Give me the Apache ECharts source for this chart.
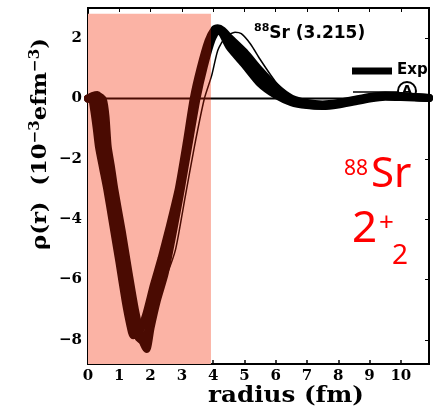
<!DOCTYPE html>
<html>
<head>
<meta charset="utf-8">
<script src="https://cdn.jsdelivr.net/npm/echarts@6/dist/echarts.min.js"></script>
<style>
  html, body { margin: 0; padding: 0; background: #fff; }
  #chart { width: 433px; height: 410px; }
</style>
</head>
<body>
<div id="chart"></div>
<script>
// axis extents and ticks
const xTicks = [0, 1, 2, 3, 4, 5, 6, 7, 8, 9, 10]
const yTicks = [-8, -6, -4, -2, 0, 2]
const xRange = [0, 10.9]
const yRange = [-8.8, 3]

// shaded region (radius 0 .. 3.93)
const shadeX = [0, 3.93]
const shadeY = [-8.8, 2.81]

// zero line
const zeroX = [0, 10.9]
const zeroY = [0, 0]

// Exp band, drawn as three thick curves
const exp1X = [0, 0.12, 0.2, 0.28, 0.35, 0.48, 0.62, 0.78, 1.0, 1.2, 1.35, 1.45, 1.65, 1.85, 2.1, 2.35, 2.6, 2.9, 3.15, 3.38, 3.6, 3.85, 4.05, 4.15, 4.3, 4.53, 5.0, 5.5, 6.0, 6.5, 7.0, 7.5, 8.0, 8.5, 9.0, 9.5, 10.0, 10.9]
const exp1Y = [0, 0.0, -0.4, -1.0, -1.6, -2.3, -3.04, -4.03, -5.4, -6.7, -7.5, -7.85, -7.7, -7.2, -6.2, -5.3, -4.3, -3.0, -1.5, 0, 1.0, 1.9, 2.3, 2.33, 2.25, 2.0, 1.53, 0.92, 0.38, 0.0, -0.15, -0.2, -0.15, -0.05, 0.05, 0.1, 0.08, 0.02]

const exp2X = [0, 0.15, 0.3, 0.4, 0.47, 0.55, 0.68, 0.8, 1.05, 1.25, 1.42, 1.6, 1.78, 1.95, 2.15, 2.4, 2.65, 2.92, 3.18, 3.43, 3.65, 3.9, 4.1, 4.3, 4.53, 5.0, 5.5, 6.0, 6.5, 7.0, 7.5, 8.0, 8.5, 9.0, 9.5, 10.0, 10.9]
const exp2Y = [0, 0.08, 0.12, -0.2, -1.0, -1.9, -2.7, -3.4, -4.9, -6.2, -7.2, -7.9, -8.05, -7.6, -6.6, -5.6, -4.5, -3.1, -1.55, 0, 1.02, 1.92, 2.3, 2.22, 1.85, 1.33, 0.71, 0.25, -0.06, -0.2, -0.23, -0.17, -0.07, 0.02, 0.08, 0.07, 0.02]

const exp3X = [0, 0.15, 0.33, 0.48, 0.56, 0.63, 0.74, 0.84, 1.08, 1.3, 1.5, 1.7, 1.87, 2.0, 2.2, 2.45, 2.7, 2.95, 3.2, 3.47, 3.7, 3.95, 4.15, 4.3, 4.53, 5.0, 5.5, 6.0, 6.5, 7.0, 7.5, 8.0, 8.5, 9.0, 9.5, 10.0, 10.9]
const exp3Y = [0, 0.05, 0.08, -0.05, -0.6, -1.6, -2.3, -3.0, -4.4, -5.8, -7.0, -7.9, -8.3, -7.6, -6.7, -5.8, -4.5, -3.1, -1.6, 0, 1.05, 1.95, 2.3, 2.15, 1.7, 1.13, 0.5, 0.12, -0.12, -0.22, -0.25, -0.2, -0.1, 0.0, 0.06, 0.05, 0.02]

// calculation (A), thin line
const calcX = [0, 0.3, 0.5, 0.8, 1.1, 1.4, 1.65, 1.9, 2.2, 2.5, 2.8, 3.1, 3.4, 3.72, 3.95, 4.15, 4.4, 4.7, 4.9, 5.2, 5.5, 6.0, 6.5, 7.0, 7.5, 8.0, 8.5, 9.0, 9.5, 10.0, 10.9]
const calcY = [0, 0.1, -0.3, -2.3, -4.6, -6.6, -7.4, -7.3, -6.6, -5.9, -5.0, -3.3, -1.6, 0, 0.75, 1.6, 2.05, 2.2, 2.15, 1.8, 1.3, 0.55, 0.05, -0.15, -0.2, -0.15, -0.06, 0, 0.05, 0.04, 0.02]

const zip = (xs, ys) => xs.map((x, i) => [x, ys[i]])

const pink = '#fbb3a5'
const inkIn = '#4a0b02'   // curves seen through the shading
const ink = '#000'
const numFont = 'DejaVu Serif'

const chart = echarts.init(document.getElementById('chart'))

const thick = (name, xs, ys) => ({
  name: name,
  type: 'line',
  data: zip(xs, ys),
  showSymbol: false,
  smooth: 0.2,
  z: 3,
  lineStyle: { width: 8, join: 'round', cap: 'round' }
})

chart.setOption({
  animation: false,
  grid: { left: 88, right: 4, top: 8, bottom: 46, show: true, borderColor: ink, borderWidth: 2, outerBoundsMode: 'none' },
  xAxis: [{
    type: 'value', min: xRange[0], max: xRange[1],
    axisLine: { onZero: false, lineStyle: { color: ink, width: 2 } },
    axisTick: { inside: true, length: 4, customValues: xTicks, lineStyle: { color: ink, width: 1.5 } },
    axisLabel: { customValues: xTicks, color: ink, fontFamily: numFont, fontWeight: 'bold', fontSize: 15, margin: 5 },
    splitLine: { show: false }
  }, {
    type: 'value', position: 'top', min: xRange[0], max: xRange[1],
    axisLine: { onZero: false, lineStyle: { color: ink, width: 2 } },
    axisTick: { inside: true, length: 4, customValues: xTicks, lineStyle: { color: ink } },
    axisLabel: { show: false },
    splitLine: { show: false }
  }],
  yAxis: [{
    type: 'value', min: yRange[0], max: yRange[1],
    axisLine: { onZero: false, lineStyle: { color: ink, width: 2 } },
    axisTick: { inside: true, length: 4, customValues: yTicks, lineStyle: { color: ink, width: 1.5 } },
    axisLabel: {
      customValues: yTicks, color: ink, fontFamily: numFont, fontWeight: 'bold', fontSize: 15, margin: 6,
      formatter: v => v < 0 ? '\u2212' + Math.abs(v) : String(v)
    },
    splitLine: { show: false }
  }, {
    type: 'value', position: 'right', min: yRange[0], max: yRange[1],
    axisLine: { onZero: false, lineStyle: { color: ink, width: 2 } },
    axisTick: { inside: true, length: 4, customValues: yTicks, lineStyle: { color: ink } },
    axisLabel: { show: false },
    splitLine: { show: false }
  }],
  visualMap: {
    type: 'piecewise', show: false, dimension: 0, seriesIndex: [1, 2, 3, 4, 5],
    pieces: [{ gte: -1, lt: shadeX[1], color: inkIn }, { gte: shadeX[1], lte: 12, color: ink }]
  },
  series: [{
    name: 'shade',
    type: 'line',
    data: zip(shadeX, shadeY),
    showSymbol: false,
    z: 1,
    lineStyle: { opacity: 0 },
    markArea: {
      silent: true,
      itemStyle: { color: pink },
      data: [[{ coord: [shadeX[0], shadeY[0]] }, { coord: [shadeX[1], shadeY[1]] }]]
    }
  }, {
    name: 'zero',
    type: 'line',
    data: zip(zeroX, zeroY),
    showSymbol: false,
    z: 2,
    lineStyle: { width: 2 }
  },
    thick('Exp', exp1X, exp1Y),
    thick('Exp', exp2X, exp2Y),
    thick('Exp', exp3X, exp3Y),
  {
    name: '(A)',
    type: 'line',
    data: zip(calcX, calcY),
    showSymbol: false,
    smooth: 0.2,
    z: 4,
    lineStyle: { width: 1.5 }
  }],
  graphic: [
    // y axis title
    {
      type: 'text', x: 41, y: 144, rotation: Math.PI / 2, scaleX: 1.08,
      style: {
        text: '{b|\u03c1(r)  (10}{s|\u2212\u0033}{b|efm}{s|\u2212\u0033}{b|)}',
        align: 'center', verticalAlign: 'middle',
        rich: {
          b: { fontFamily: numFont, fontWeight: 'bold', fontSize: 21, lineHeight: 26, fill: ink },
          s: { fontFamily: numFont, fontWeight: 'bold', fontSize: 14, lineHeight: 26, verticalAlign: 'top', fill: ink }
        }
      }
    },
    // x axis title
    {
      type: 'text', x: 286, y: 396, scaleX: 1.12,
      style: { text: 'radius (fm)', align: 'center', verticalAlign: 'middle', fontFamily: numFont, fontWeight: 'bold', fontSize: 22, fill: ink }
    },
    // black panel label
    {
      type: 'text', x: 254, y: 34,
      style: {
        text: '{s|88}{b|Sr (3.215)}',
        align: 'left', verticalAlign: 'middle',
        rich: {
          b: { fontFamily: 'DejaVu Sans', fontWeight: 'bold', fontSize: 17, lineHeight: 22, fill: ink },
          s: { fontFamily: 'DejaVu Sans', fontWeight: 'bold', fontSize: 11, lineHeight: 22, verticalAlign: 'top', fill: ink }
        }
      }
    },
    // legend samples
    { type: 'line', shape: { x1: 352, y1: 71, x2: 392, y2: 71 }, style: { stroke: ink, lineWidth: 7 } },
    { type: 'text', x: 397, y: 70, style: { text: 'Exp', align: 'left', verticalAlign: 'middle', fontFamily: 'DejaVu Sans', fontWeight: 'bold', fontSize: 15, fill: ink } },
    { type: 'line', shape: { x1: 353, y1: 92, x2: 398, y2: 92 }, style: { stroke: ink, lineWidth: 1.5 } },
    { type: 'circle', shape: { cx: 407, cy: 91, r: 9 }, style: { fill: '#fff', stroke: ink, lineWidth: 2 } },
    { type: 'text', x: 407, y: 91, style: { text: 'A', align: 'center', verticalAlign: 'middle', fontFamily: 'DejaVu Sans', fontWeight: 'bold', fontSize: 13, fill: ink } },
    // red annotation
    { type: 'text', x: 344, y: 159, style: { text: '88', align: 'left', verticalAlign: 'top', fontFamily: 'Noto Sans', fontSize: 21, fill: '#ff0000' } },
    { type: 'text', x: 371, y: 175, style: { text: 'Sr', align: 'left', verticalAlign: 'middle', fontFamily: 'Noto Sans', fontSize: 42, fill: '#ff0000' } },
    { type: 'text', x: 352, y: 229, style: { text: '2', align: 'left', verticalAlign: 'middle', fontFamily: 'Noto Sans', fontSize: 44, fill: '#ff0000' } },
    { type: 'text', x: 379, y: 224, style: { text: '+', align: 'left', verticalAlign: 'middle', fontFamily: 'Noto Sans', fontSize: 26, fill: '#ff0000' } },
    { type: 'text', x: 392, y: 256, style: { text: '2', align: 'left', verticalAlign: 'middle', fontFamily: 'Noto Sans', fontSize: 28, fill: '#ff0000' } }
  ]
})
</script>
</body>
</html>
